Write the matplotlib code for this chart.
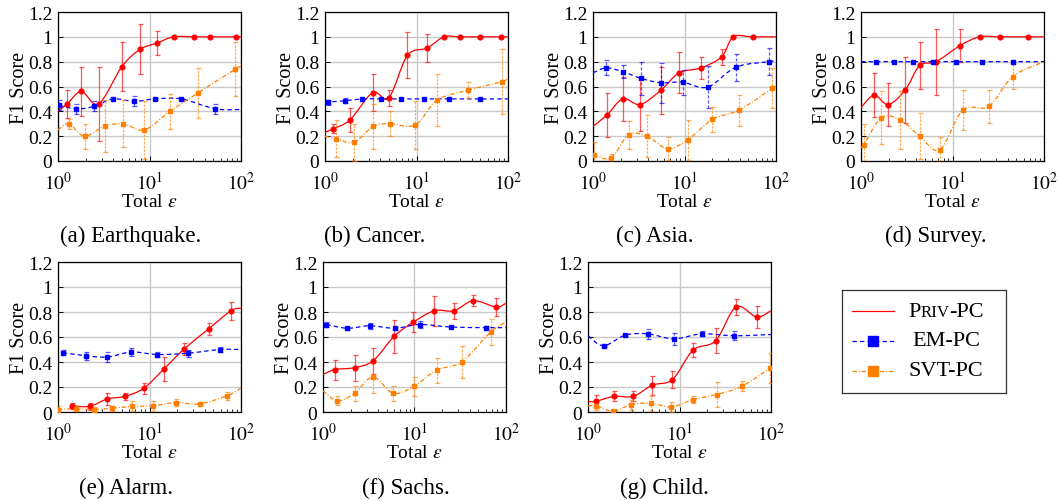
import numpy as np
import matplotlib
matplotlib.use("Agg")
import matplotlib.pyplot as plt
from matplotlib.path import Path
from matplotlib.patches import PathPatch
from matplotlib.lines import Line2D
from matplotlib.offsetbox import TextArea, HPacker, AnnotationBbox
from matplotlib.ticker import FixedLocator, FixedFormatter, LogLocator, NullFormatter

plt.rcParams['font.family'] = ['Liberation Serif', 'DejaVu Serif']
plt.rcParams['mathtext.fontset'] = 'stix'

# ---------------- data: (total epsilon, F1 score, error); error None = curve end only
eq_priv = [(1, 0.40, None), (1.26, 0.46, 0.11), (1.80, 0.56, 0.20), (2.78, 0.46, 0.30), (4.99, 0.76, 0.20),
           (7.91, 0.90, 0.20), (12.1, 0.95, 0.10), (18.3, 1.0, 0), (30.5, 1.0, 0), (45.9, 1.0, 0), (88.2, 1.0, 0), (100, 1.0, None)]
eq_em = [(1.025, 0.45, 0.04), (1.585, 0.42, 0.04), (2.47, 0.44, 0.04), (3.98, 0.50, 0), (6.81, 0.48, 0.04),
         (11.5, 0.50, 0.01), (22.2, 0.50, 0.01), (52.4, 0.42, 0.04), (100, 0.415, None)]
eq_svt = [(1, 0.25, None), (1.31, 0.30, 0.04), (1.95, 0.20, 0.10), (3.23, 0.28, 0.21), (5.16, 0.30, 0.19),
          (8.76, 0.25, 0.23), (16.7, 0.40, 0.14), (34.2, 0.55, 0.20), (86.7, 0.74, 0.22), (100, 0.76, None)]

ca_priv = [(1, 0.23, None), (1.23, 0.26, 0.035), (1.87, 0.33, 0.10), (3.31, 0.55, 0.15), (4.99, 0.51, 0.065),
           (7.97, 0.85, 0.185), (13.1, 0.91, 0.11), (19.9, 1.0, 0), (29.7, 1.0, 0), (49.9, 1.0, 0), (84.6, 1.0, 0), (100, 1.0, None)]
ca_em = [(1, 0.47, None), (1.08, 0.475, 0.02), (1.64, 0.485, 0.02), (2.55, 0.50, 0), (4.08, 0.50, 0), (6.75, 0.50, 0),
         (12.0, 0.50, 0), (22.6, 0.50, 0), (49.9, 0.50, 0), (100, 0.50, None)]
ca_svt = [(1, 0.20, None), (1.32, 0.18, 0.15), (2.07, 0.15, 0.15), (3.37, 0.28, 0.18), (5.13, 0.30, 0.10),
          (9.73, 0.29, 0.19), (16.7, 0.49, 0.21), (36.3, 0.57, 0.065), (86.7, 0.64, 0.26), (100, 0.67, None)]

as_priv = [(1, 0.28, None), (1.42, 0.37, 0.175), (2.12, 0.50, 0.175), (3.28, 0.455, 0.21), (5.52, 0.57, 0.19),
           (8.75, 0.71, 0.165), (15.2, 0.75, 0.09), (25.5, 0.84, 0.065), (34.2, 1.0, 0), (55.6, 1.0, 0), (100, 1.0, None)]
as_em = [(1, 0.71, None), (1.39, 0.75, 0.06), (2.11, 0.72, 0.05), (3.37, 0.665, 0.13), (5.52, 0.63, 0.16),
         (9.53, 0.635, 0.10), (17.9, 0.595, 0.17), (36.3, 0.755, 0.11), (84.1, 0.80, 0.11), (100, 0.805, None)]
as_svt = [(1.02, 0.05, 0.10), (1.57, 0.025, 0.03), (2.45, 0.21, 0.11), (3.88, 0.20, 0.17), (6.53, 0.10, 0.09),
          (10.85, 0.17, 0.16), (20.2, 0.335, 0.10), (39.5, 0.41, 0.125), (91, 0.585, 0.16), (100, 0.60, None)]

su_priv = [(1, 0.43, None), (1.39, 0.53, 0.175), (1.99, 0.455, 0.175), (3.06, 0.575, 0.265), (4.39, 0.77, 0.19),
           (6.62, 0.80, 0.265), (12.1, 0.93, 0.13), (19.9, 1.0, 0), (33, 1.0, 0), (66.8, 1.0, 0), (100, 1.0, None)]
su_em = [(1, 0.80, None), (1.45, 0.80, 0), (2.28, 0.80, 0), (3.68, 0.80, 0), (6.1, 0.80, 0), (10.8, 0.80, 0),
         (20.8, 0.80, 0), (46.0, 0.80, 0), (100, 0.80, None)]
su_svt = [(1, 0.11, None), (1.07, 0.13, 0.165), (1.67, 0.35, 0.21), (2.67, 0.33, 0.235), (4.39, 0.20, 0.185),
          (7.28, 0.09, 0.10), (12.96, 0.41, 0.16), (24.9, 0.44, 0.135), (45.5, 0.68, 0.10), (100, 0.80, None)]

al_priv = [(1.44, 0.05, 0.025), (2.22, 0.045, 0.03), (3.47, 0.105, 0.05), (5.37, 0.125, 0.03), (8.67, 0.19, 0.045),
           (14.4, 0.345, 0.095), (24.0, 0.505, 0.05), (44.3, 0.665, 0.045), (77.8, 0.81, 0.07), (100, 0.83, None)]
al_em = [(1.13, 0.475, 0.02), (2.01, 0.45, 0.03), (3.47, 0.44, 0.04), (6.35, 0.48, 0.03), (12.2, 0.46, 0.02),
         (26.1, 0.47, 0.03), (59.1, 0.50, 0.02), (100, 0.50, None)]
al_svt = [(1, 0.02, 0.03), (1.56, 0.025, 0.02), (2.48, 0.02, 0.02), (3.9, 0.03, 0.02), (6.42, 0.045, 0.04),
          (10.8, 0.05, 0.04), (19.3, 0.075, 0.03), (35.6, 0.065, 0.01), (70.4, 0.13, 0.03), (100, 0.19, None)]

sa_priv = [(1, 0.30, None), (1.36, 0.34, 0.08), (2.22, 0.355, 0.105), (3.53, 0.41, 0.105), (5.99, 0.605, 0.135),
           (9.75, 0.72, 0.08), (16.5, 0.81, 0.12), (27.0, 0.81, 0.065), (43.9, 0.89, 0.045), (77.8, 0.84, 0.07), (100, 0.87, None)]
sa_em = [(1.09, 0.70, 0.02), (1.85, 0.67, 0.01), (3.24, 0.69, 0.025), (6.1, 0.67, 0.01), (11.4, 0.70, 0.03),
         (24.8, 0.68, 0), (60.6, 0.675, 0.01), (100, 0.675, None)]
sa_svt = [(1, 0.17, None), (1.44, 0.09, 0.035), (2.22, 0.15, 0.06), (3.53, 0.28, 0.13), (5.84, 0.15, 0.06),
          (9.84, 0.205, 0.075), (17.4, 0.335, 0.10), (32.7, 0.40, 0.13), (67.9, 0.64, 0.105), (100, 0.72, None)]

ch_priv = [(1, 0.085, None), (1.21, 0.085, 0.05), (1.93, 0.125, 0.04), (3.11, 0.125, 0.04), (5.06, 0.215, 0.075),
           (8.38, 0.26, 0.065), (14.1, 0.495, 0.055), (24.8, 0.57, 0.10), (41.4, 0.84, 0.065), (69.7, 0.76, 0.085), (100, 0.81, None)]
ch_em = [(1, 0.61, None), (1.48, 0.53, 0.01), (2.56, 0.615, 0.01), (4.54, 0.625, 0.04), (8.7, 0.585, 0.05),
         (17.4, 0.625, 0.02), (39.4, 0.61, 0.035), (100, 0.62, None)]
ch_svt = [(1, 0.05, None), (1.23, 0.05, 0.03), (1.88, 0.005, 0.01), (2.98, 0.06, 0.04), (4.94, 0.07, 0.06),
          (8.17, 0.04, 0.04), (14.1, 0.10, 0.03), (25.4, 0.14, 0.10), (47.7, 0.205, 0.04), (97, 0.35, 0.12), (100, 0.36, None)]

captions = ["(a) Earthquake.", "(b) Cancer.", "(c) Asia.", "(d) Survey.", "(e) Alarm.", "(f) Sachs.", "(g) Child."]
datasets = [(eq_priv, eq_em, eq_svt), (ca_priv, ca_em, ca_svt), (as_priv, as_em, as_svt), (su_priv, su_em, su_svt),
            (al_priv, al_em, al_svt), (sa_priv, sa_em, sa_svt), (ch_priv, ch_em, ch_svt)]
legend_labels = ["Priv-PC", "EM-PC", "SVT-PC"]
y_ticks = [0, 0.2, 0.4, 0.6, 0.8, 1.0, 1.2]
y_tick_labels = ["0", "0.2", "0.4", "0.6", "0.8", "1", "1.2"]
x_ticks = [1, 10, 100]
x_tick_labels = [r"$10^{0}$", r"$10^{1}$", r"$10^{2}$"]

# ---------------- styles
RED, BLUE, ORANGE = "#ff0000", "#0000ff", "#ff8000"
styles = [
    dict(color=RED, ls="-", marker="o", ms=3.4, els="-"),
    dict(color=BLUE, ls=(0, (3.5, 2.5)), marker="s", ms=2.9, els=(0, (2.5, 1.5))),
    dict(color=ORANGE, ls=(0, (3.5, 1.5, 0.8, 1.5)), marker="s", ms=2.9, els=(0, (2.0, 1.0))),
]

W, H = 1058, 502
fig = plt.figure(figsize=(W / 100, H / 100), dpi=100)

lefts_top = [58, 325, 593, 861]
lefts_bot = [58, 323, 588]
AW = 183
positions = [(l, 13, 149) for l in lefts_top] + [(l, 263, 150) for l in lefts_bot]
caption_x = [131, 375, 655, 936, 126, 406, 664]

TICK_FS = 14
LABEL_FS = 14
CAP_FS = 16.5


def smooth_path(xs, ys, k=0.17):
    # bezier control points built in log-x / linear-y space scaled like the axes box
    aw, ah = AW, 149.0
    px = np.log10(np.asarray(xs, float)) * aw / 2.0
    py = np.asarray(ys, float) * ah / 1.2
    n = len(px)
    P = np.column_stack([px, py])
    T = np.zeros_like(P)
    for i in range(n):
        if i == 0:
            T[i] = P[1] - P[0]
        elif i == n - 1:
            T[i] = P[-1] - P[-2]
        else:
            T[i] = P[i + 1] - P[i - 1]
    verts = [P[0]]
    codes = [Path.MOVETO]
    for i in range(n - 1):
        c1 = P[i] + k * T[i]
        c2 = P[i + 1] - k * T[i + 1]
        verts += [c1, c2, P[i + 1]]
        codes += [Path.CURVE4] * 3
    V = np.array(verts)
    V[:, 0] = 10 ** (V[:, 0] * 2.0 / aw)
    V[:, 1] = V[:, 1] * 1.2 / ah
    return Path(V, codes)


for idx, (ser, cap) in enumerate(zip(datasets, captions)):
    l, t, h = positions[idx]
    ax = fig.add_axes([l / W, 1 - (t + h) / H, AW / W, h / H])
    ax.set_xscale("log")
    ax.set_xlim(1, 100)
    ax.set_ylim(0, 1.2)
    ax.set_axisbelow(True)
    ax.yaxis.set_major_locator(FixedLocator(y_ticks))
    ax.yaxis.set_major_formatter(FixedFormatter(y_tick_labels))
    ax.xaxis.set_major_locator(FixedLocator(x_ticks))
    ax.xaxis.set_major_formatter(FixedFormatter(x_tick_labels))
    ax.xaxis.set_minor_locator(LogLocator(base=10, subs=np.arange(2, 10)))
    ax.xaxis.set_minor_formatter(NullFormatter())
    ax.grid(True, which="major", color="#c8c8c8", lw=1.0)
    ax.tick_params(which="both", direction="in", labelsize=TICK_FS)
    ax.tick_params(axis="x", pad=7)
    ax.tick_params(axis="y", pad=4)
    ax.tick_params(which="major", length=3.5, width=0.7)
    ax.tick_params(which="minor", length=2.0, width=0.6)
    for s in ax.spines.values():
        s.set_linewidth(0.9)
    ax.set_xlabel(r"Total $\epsilon$", fontsize=LABEL_FS, labelpad=0)
    ax.set_ylabel("F1 Score", fontsize=LABEL_FS + 0.5, labelpad=-1)

    for data, st in zip(ser, styles):
        xs = [d[0] for d in data]
        ys = [d[1] for d in data]
        patch = PathPatch(smooth_path(xs, ys), facecolor="none", edgecolor=st["color"], lw=0.9,
                          linestyle=st["ls"], transform=ax.transData, zorder=3)
        ax.add_patch(patch)
        mx = [d[0] for d in data if d[2] is not None]
        my = [d[1] for d in data if d[2] is not None]
        ex = [d[0] for d in data if d[2]]
        ey = [d[1] for d in data if d[2]]
        ee = [d[2] for d in data if d[2]]
        if ex:
            eb = ax.errorbar(ex, ey, yerr=ee, fmt="none", ecolor=st["color"], elinewidth=0.9,
                             capsize=1.8, capthick=0.9, alpha=0.65, zorder=3)
            for lc in eb[2]:
                lc.set_linestyle(st["els"])
        ax.plot(mx, my, linestyle="none", marker=st["marker"], ms=st["ms"], color=st["color"],
                mec=st["color"], zorder=4)
    ax.set_xlim(1, 100)
    ax.set_ylim(0, 1.2)
    cap_y = 236 if idx < 4 else 488
    fig.text(caption_x[idx] / W, 1 - cap_y / H, cap, ha="center", va="center", fontsize=CAP_FS)

# ---------------- legend (manual, to allow small caps and centred labels)
lx0, ly0, lx1, ly1 = 842, 291, 1006, 394
lax = fig.add_axes([lx0 / W, 1 - ly1 / H, (lx1 - lx0) / W, (ly1 - ly0) / H])
lax.set_xlim(0, 1)
lax.set_ylim(0, 1)
lax.set_xticks([])
lax.set_yticks([])
for s in lax.spines.values():
    s.set_linewidth(0.9)
    s.set_color("#333333")
rows = [0.795, 0.505, 0.215]
LEG_FS = 16
for st, yy, lab in zip(styles, rows, legend_labels):
    lax.add_line(Line2D([0.06, 0.32], [yy, yy], color=st["color"], lw=0.9, linestyle=st["ls"]))
    if st["marker"] == "s":
        lax.add_line(Line2D([0.19], [yy], color=st["color"], marker="s", ms=6.5, linestyle="none"))
    if lab == "Priv-PC":
        parts = [TextArea("P", textprops=dict(fontsize=LEG_FS)),
                 TextArea("RIV", textprops=dict(fontsize=LEG_FS * 0.76)),
                 TextArea("-PC", textprops=dict(fontsize=LEG_FS))]
        box = HPacker(children=parts, align="baseline", pad=0, sep=0)
        ab = AnnotationBbox(box, (0.635, yy), xycoords=lax.transAxes, frameon=False,
                            box_alignment=(0.5, 0.5), pad=0)
        lax.add_artist(ab)
    else:
        lax.text(0.635, yy, lab, ha="center", va="center", fontsize=LEG_FS, transform=lax.transAxes)

fig.savefig("out.png", dpi=100)
